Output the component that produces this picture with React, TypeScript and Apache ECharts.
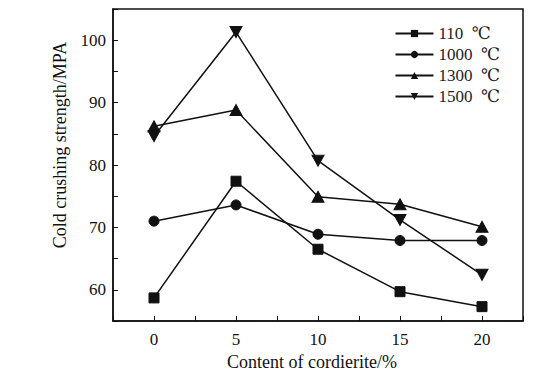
import React, { useEffect, useRef } from "react";
import * as echarts from "echarts";

const contents = [0, 5, 10, 15, 20];
const s110 = [58.7, 77.4, 66.5, 59.7, 57.3];
const s1000 = [71.0, 73.6, 68.9, 67.9, 67.9];
const s1300 = [86.2, 88.8, 74.9, 73.7, 70.1];
const s1500 = [84.6, 101.3, 80.7, 71.2, 62.4];
const seriesNames = ["110  ℃", "1000  ℃", "1300  ℃", "1500  ℃"];
const seriesSymbols = ["rect", "circle", "triangle", "path://M0,0 L10,0 L5,9 Z"];
const seriesData = [s110, s1000, s1300, s1500];

const FONT = "'Liberation Serif', 'Times New Roman', 'DejaVu Serif', serif";

export default function App() {
  const ref = useRef<HTMLDivElement>(null);
  useEffect(() => {
    if (!ref.current) return;
    const chart = echarts.init(ref.current, undefined, { renderer: "svg" });
    chart.setOption({
      animation: false,
      backgroundColor: "#fff",
      textStyle: { fontFamily: FONT, color: "#111" },
      grid: {
        left: 113,
        right: 22,
        top: 9,
        bottom: 66,
        show: true,
        borderColor: "#111",
        borderWidth: 1.5,
      },
      legend: {
        right: 40,
        top: 20,
        orient: "vertical",
        itemWidth: 38,
        itemHeight: 9,
        itemGap: 4,
        textStyle: { fontFamily: FONT, fontSize: 17, color: "#222" },
        data: seriesNames,
      },
      xAxis: {
        type: "value",
        min: -2.5,
        max: 22.5,
        interval: 2.5,
        name: "Content of cordierite/%",
        nameLocation: "middle",
        nameGap: 30,
        nameTextStyle: { fontFamily: FONT, fontSize: 18, color: "#111", padding: [0, 12, 0, 0] },
        axisLine: { show: true, onZero: false, lineStyle: { color: "#111", width: 1.5 } },
        axisTick: { inside: true, length: 5, lineStyle: { color: "#111" } },
        axisLabel: {
          fontFamily: FONT,
          fontSize: 17,
          color: "#111",
          margin: 10,
          formatter: (v: number) => (Math.abs(v % 5) < 1e-6 && v >= 0 && v <= 20 ? String(v) : ""),
        },
        splitLine: { show: false },
      },
      yAxis: {
        type: "value",
        min: 55,
        max: 105,
        interval: 5,
        name: "Cold crushing strength/MPA",
        nameLocation: "middle",
        nameGap: 44,
        nameTextStyle: { fontFamily: FONT, fontSize: 18, color: "#111", padding: [0, 0, 0, 40] },
        axisLine: { show: true, onZero: false, lineStyle: { color: "#111", width: 1.5 } },
        axisTick: { inside: true, length: 5, lineStyle: { color: "#111" } },
        axisLabel: {
          fontFamily: FONT,
          fontSize: 17,
          color: "#111",
          margin: 7,
          formatter: (v: number) => (v % 10 === 0 && v <= 100 ? String(v) : ""),
        },
        splitLine: { show: false },
      },
      series: seriesNames.map((name, i) => ({
        name,
        type: "line",
        data: contents.map((c, j) => [c, seriesData[i][j]]),
        symbol: seriesSymbols[i],
        symbolSize: i >= 2 ? [12, 11] : 10,
        lineStyle: { color: "#111", width: 1.5 },
        itemStyle: { color: "#111", borderColor: "#111" },
        color: "#111",
      })),
    });
    return () => chart.dispose();
  }, []);
  return <div ref={ref} style={{ width: 545, height: 387, position: "absolute", left: 0, top: 0 }} />;
}
